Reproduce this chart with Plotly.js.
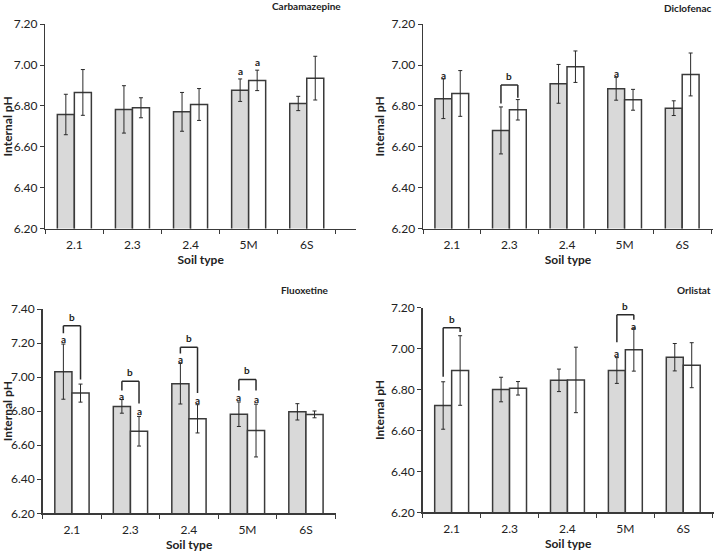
<!DOCTYPE html>
<html><head><meta charset="utf-8">
<script src="https://cdn.plot.ly/plotly-3.0.1.min.js"></script>
<style>html,body{margin:0;padding:0;background:#fff}#chart{width:715px;height:552px}</style>
</head><body><div id="chart"></div>
<script>
// ---------- DATA ----------
const categories = ['2.1', '2.3', '2.4', '5M', '6S'];
const panelTitles = ['Carbamazepine', 'Diclofenac', 'Fluoxetine', 'Orlistat'];

const carbGray = [6.758, 6.783, 6.771, 6.877, 6.812];
const carbGrayErr = [0.099, 0.116, 0.095, 0.055, 0.035];
const carbWhite = [6.866, 6.791, 6.807, 6.925, 6.936];
const carbWhiteErr = [0.112, 0.049, 0.078, 0.050, 0.107];

const diclGray = [6.835, 6.680, 6.908, 6.884, 6.789];
const diclGrayErr = [0.097, 0.115, 0.095, 0.056, 0.036];
const diclWhite = [6.861, 6.781, 6.992, 6.830, 6.954];
const diclWhiteErr = [0.112, 0.050, 0.077, 0.051, 0.105];

const fluoGray = [7.032, 6.828, 6.961, 6.782, 6.796];
const fluoGrayErr = [0.162, 0.040, 0.119, 0.072, 0.048];
const fluoWhite = [6.906, 6.682, 6.755, 6.686, 6.781];
const fluoWhiteErr = [0.053, 0.087, 0.083, 0.155, 0.020];

const orliGray = [6.722, 6.800, 6.845, 6.893, 6.958];
const orliGrayErr = [0.116, 0.060, 0.055, 0.063, 0.067];
const orliWhite = [6.893, 6.806, 6.847, 6.995, 6.919];
const orliWhiteErr = [0.170, 0.033, 0.160, 0.105, 0.110];

// significance letters "a": [panel, category index, series (0 grey, 1 white), y]
const letterA = [
  [0, 3, 0, 6.972], [0, 3, 1, 7.015],
  [1, 0, 0, 6.951], [1, 3, 0, 6.959],
  [2, 0, 0, 7.222], [2, 1, 0, 6.891], [2, 1, 1, 6.798], [2, 2, 0, 7.108], [2, 2, 1, 6.867], [2, 3, 0, 6.886], [2, 3, 1, 6.871],
  [3, 3, 0, 6.980], [3, 3, 1, 7.109]
];
// brackets "b": [panel, category index, top y, left leg bottom, right leg bottom]
const bracketB = [
  [1, 1, 6.902, 6.812, 6.840],
  [2, 0, 7.302, 7.257, 6.986],
  [2, 1, 6.975, 6.922, 6.845],
  [2, 2, 7.176, 7.138, 6.906],
  [2, 3, 6.986, 6.922, 6.922],
  [3, 0, 7.102, 6.862, 7.081],
  [3, 3, 7.166, 7.031, 7.141]
];

// ---------- LAYOUT ----------
const W = 715, H = 552;
const FONT = 'Lato, "Noto Sans", sans-serif';
const BARGAP = 0.414;
const OFF = (1 - BARGAP) / 4;
// pixel geometry of each panel: x start, x end of axis line, px per category, y top, y bottom, y range
const geo = [
  {x0: 45.3, x1: 356, band: 58.1, yt: 24.2, yb: 228.5, yr: [6.2, 7.2], tx: 343, ty: 6},
  {x0: 423, x1: 713, band: 57.6, yt: 24.2, yb: 228.5, yr: [6.2, 7.2], tx: 713, ty: 8},
  {x0: 42.7, x1: 335.5, band: 58.5, yt: 309, yb: 513.3, yr: [6.2, 7.4], tx: 331, ty: 290},
  {x0: 422.7, x1: 713.5, band: 57.9, yt: 307.7, yb: 512.3, yr: [6.2, 7.2], tx: 713, ty: 290}
];
const series = [
  [carbGray, carbGrayErr, carbWhite, carbWhiteErr],
  [diclGray, diclGrayErr, diclWhite, diclWhiteErr],
  [fluoGray, fluoGrayErr, fluoWhite, fluoWhiteErr],
  [orliGray, orliGrayErr, orliWhite, orliWhiteErr]
];

const traces = [];
const layout = {
  width: W, height: H, margin: {l: 0, r: 0, t: 0, b: 0},
  paper_bgcolor: '#fff', plot_bgcolor: '#fff',
  showlegend: false, barmode: 'group', bargap: BARGAP, bargroupgap: 0,
  font: {family: FONT, size: 12, color: '#222'},
  annotations: [], shapes: []
};
const LINE = '#3a3a3a';

geo.forEach((g, i) => {
  const sfx = i === 0 ? '' : String(i + 1);
  const xa = 'x' + sfx, ya = 'y' + sfx;
  const [gv, ge, wv, we] = series[i];
  const errStyle = {color: '#2a2a2a', thickness: 1, width: 2};
  traces.push({
    type: 'bar', x: categories, y: gv, xaxis: xa, yaxis: ya,
    marker: {color: '#d9d9d9', line: {color: LINE, width: 1.5}},
    error_y: Object.assign({type: 'data', array: ge, visible: true}, errStyle),
    hoverinfo: 'y'
  });
  traces.push({
    type: 'bar', x: categories, y: wv, xaxis: xa, yaxis: ya,
    marker: {color: '#ffffff', line: {color: LINE, width: 1.5}},
    error_y: Object.assign({type: 'data', array: we, visible: true}, errStyle),
    hoverinfo: 'y'
  });
  const lastTick = g.x0 + 5 * g.band;
  const extra = (g.x1 - lastTick) / g.band;
  layout['xaxis' + sfx] = {
    anchor: ya, domain: [g.x0 / W, g.x1 / W],
    type: 'category', range: [-0.5, 4.5 + extra],
    tickson: 'boundaries', ticks: 'outside', ticklen: 4, tickwidth: 1, tickcolor: LINE,
    ticklabelstandoff: 5,
    showline: true, linecolor: LINE, linewidth: 1.5, showgrid: false, zeroline: false,
    tickfont: {size: 12, color: '#222'}, fixedrange: true,
    title: {text: '<b>Soil type</b>', font: {size: 12, color: '#222'}, standoff: 4}
  };
  layout['yaxis' + sfx] = {
    anchor: xa, domain: [1 - g.yb / H, 1 - g.yt / H],
    range: g.yr, dtick: 0.2, tickformat: '.2f',
    ticks: 'outside', ticklen: 4, tickwidth: 1, tickcolor: LINE,
    showline: true, linecolor: LINE, linewidth: 1.5, showgrid: false, zeroline: false,
    tickfont: {size: 12, color: '#222'}, fixedrange: true,
    title: {text: '<b>Internal pH</b>', font: {size: 12, color: '#222'}, standoff: 4}
  };
  layout.annotations.push({
    xref: 'paper', yref: 'paper', x: g.tx / W, y: 1 - g.ty / H,
    xanchor: 'right', yanchor: 'middle', showarrow: false,
    text: '<b>' + panelTitles[i] + '</b>', font: {size: 10, color: '#222'}
  });
});

letterA.forEach(([p, c, s, y]) => {
  const sfx = p === 0 ? '' : String(p + 1);
  layout.annotations.push({
    xref: 'x' + sfx, yref: 'y' + sfx, x: c + (s === 0 ? -OFF : OFF), y: y,
    xanchor: 'center', yanchor: 'middle', showarrow: false,
    text: '<b>a</b>', font: {size: 10, color: '#222'}
  });
});

bracketB.forEach(([p, c, top, lb, rb]) => {
  const sfx = p === 0 ? '' : String(p + 1);
  const xr = 'x' + sfx, yr = 'y' + sfx;
  const xl = c - OFF, xrt = c + OFF;
  const ln = {color: '#2a2a2a', width: 1.5};
  layout.shapes.push({type: 'line', xref: xr, yref: yr, x0: xl, x1: xl, y0: lb, y1: top, line: ln});
  layout.shapes.push({type: 'line', xref: xr, yref: yr, x0: xl, x1: xrt, y0: top, y1: top, line: ln});
  layout.shapes.push({type: 'line', xref: xr, yref: yr, x0: xrt, x1: xrt, y0: rb, y1: top, line: ln});
  layout.annotations.push({
    xref: xr, yref: yr, x: c, y: top,
    xanchor: 'center', yanchor: 'bottom', yshift: 1, showarrow: false,
    text: '<b>b</b>', font: {size: 10, color: '#222'}
  });
});

Plotly.newPlot('chart', traces, layout, {staticPlot: true, displayModeBar: false});
</script>
</body></html>
